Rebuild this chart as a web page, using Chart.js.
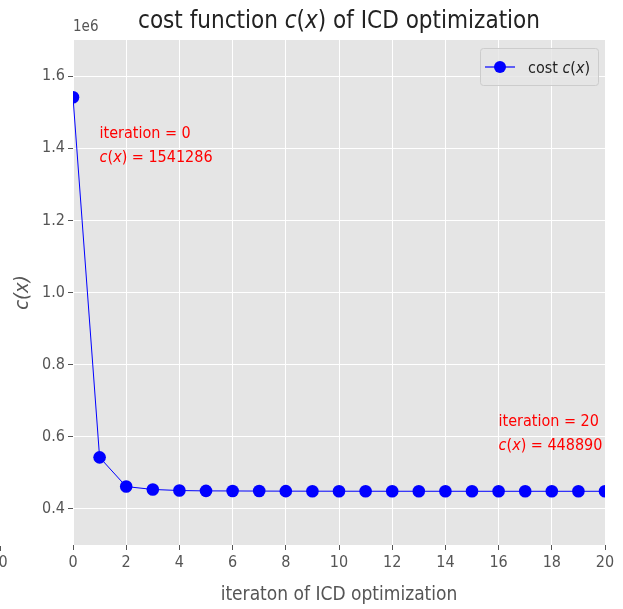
<!DOCTYPE html>
<html>
<head>
<meta charset="utf-8">
<script src="https://cdn.jsdelivr.net/npm/chart.js@4.4.0/dist/chart.umd.min.js"></script>
<style>
  html, body { margin: 0; padding: 0; background: #fff; }
  #wrap { width: 623px; height: 609px; }
</style>
</head>
<body>
<div id="wrap"><canvas id="costChart" width="623" height="609"></canvas></div>
<script>
// cost per ICD iteration
const iterations = [0, 1, 2, 3, 4, 5, 6, 7, 8, 9, 10, 11, 12, 13, 14, 15, 16, 17, 18, 19, 20];
const costValues = [1541286, 543000, 462000, 454000, 451000, 450000, 449800, 449500, 449300, 449200,
    449100, 449050, 449000, 448980, 448960, 448940, 448920, 448910, 448900, 448895, 448890];
const xTicks = [0, 2, 4, 6, 8, 10, 12, 14, 16, 18, 20];
const yTicks = [400000, 600000, 800000, 1000000, 1200000, 1400000, 1600000];

const FONT = "'DejaVu Sans Condensed', 'Liberation Sans Narrow', 'DejaVu Sans', sans-serif";
const GRAY = '#555555';

// text with italic parts, like matplotlib mathtext
function drawRich(ctx, parts, x, y, size, color, align) {
    let total = 0;
    parts.forEach(p => {
        ctx.font = (p[1] ? 'italic ' : '') + size + 'px ' + FONT;
        total += ctx.measureText(p[0]).width;
    });
    let cx = align === 'center' ? x - total / 2 : (align === 'right' ? x - total : x);
    ctx.fillStyle = color;
    ctx.textAlign = 'left';
    ctx.textBaseline = 'alphabetic';
    parts.forEach(p => {
        ctx.font = (p[1] ? 'italic ' : '') + size + 'px ' + FONT;
        ctx.fillText(p[0], cx, y);
        cx += ctx.measureText(p[0]).width;
    });
}

const extras = {
    id: 'extras',
    beforeDraw(chart) {
        const { ctx, chartArea: a } = chart;
        ctx.save();
        ctx.fillStyle = '#E5E5E5';
        ctx.fillRect(a.left, a.top, a.right - a.left, a.bottom - a.top);
        ctx.restore();
    },
    // markers are cut at the plot edges, like matplotlib
    beforeDatasetsDraw(chart) {
        const { ctx, chartArea: a } = chart;
        ctx.save();
        ctx.beginPath();
        ctx.rect(a.left, a.top, a.right - a.left, a.bottom - a.top);
        ctx.clip();
    },
    afterDatasetsDraw(chart) {
        chart.ctx.restore();
    },
    afterDraw(chart) {
        const { ctx, chartArea: a, scales } = chart;
        ctx.save();
        // title
        drawRich(ctx, [['cost function ', 0], ['c', 1], ['(', 0], ['x', 1], [') of ICD optimization', 0]],
            (a.left + a.right) / 2, 28, 24, '#222', 'center');
        // offset text
        ctx.font = '15px ' + FONT;
        ctx.fillStyle = GRAY;
        ctx.textAlign = 'left';
        ctx.fillText('1e6', a.left, 31);
        // stray tick at far left
        ctx.strokeStyle = GRAY;
        ctx.lineWidth = 1;
        ctx.beginPath();
        ctx.moveTo(0.5, a.bottom + 1);
        ctx.lineTo(0.5, a.bottom + 6);
        ctx.stroke();
        ctx.font = '16px ' + FONT;
        ctx.textAlign = 'center';
        ctx.textBaseline = 'top';
        ctx.fillText('0', 3, a.bottom + 10);

        // annotations
        const x0 = scales.x.getPixelForValue(1), y0 = scales.y.getPixelForValue(1360000);
        drawRich(ctx, [['iteration = 0', 0]], x0, y0 - 25, 16, '#ff0000', 'left');
        drawRich(ctx, [['c', 1], ['(', 0], ['x', 1], [') = 1541286', 0]], x0, y0 - 1, 16, '#ff0000', 'left');
        const x1 = scales.x.getPixelForValue(16), y1 = scales.y.getPixelForValue(560000);
        drawRich(ctx, [['iteration = 20', 0]], x1, y1 - 25, 16, '#ff0000', 'left');
        drawRich(ctx, [['c', 1], ['(', 0], ['x', 1], [') = 448890', 0]], x1, y1 - 1, 16, '#ff0000', 'left');

        // legend box
        const lx = a.right - 125, ly = a.top + 8, lw = 118, lh = 37;
        ctx.fillStyle = 'rgba(229,229,229,0.8)';
        ctx.strokeStyle = '#cccccc';
        ctx.beginPath();
        ctx.roundRect(lx + 0.5, ly + 0.5, lw, lh, 3);
        ctx.fill();
        ctx.stroke();
        ctx.strokeStyle = '#0000ff';
        ctx.lineWidth = 1.2;
        ctx.beginPath();
        ctx.moveTo(lx + 5, ly + 19);
        ctx.lineTo(lx + 35, ly + 19);
        ctx.stroke();
        ctx.fillStyle = '#0000ff';
        ctx.beginPath();
        ctx.arc(lx + 20, ly + 19, 6, 0, Math.PI * 2);
        ctx.fill();
        drawRich(ctx, [['cost ', 0], ['c', 1], ['(', 0], ['x', 1], [')', 0]], lx + 48, ly + 25, 16, '#222', 'left');
        ctx.restore();
    }
};

document.addEventListener("DOMContentLoaded", function () {
    const canvas = document.getElementById("costChart");
    const ctx = canvas.getContext("2d");

    new Chart(ctx, {
        type: 'line',
        data: {
            datasets: [{
                label: 'cost c(x)',
                data: iterations.map((it, i) => ({ x: it, y: costValues[i] })),
                borderColor: '#0000ff',
                backgroundColor: '#0000ff',
                borderWidth: 1,
                pointRadius: 6.3,
                pointBorderWidth: 0,
                pointHoverRadius: 6.3,
                tension: 0,
                clip: 0
            }]
        },
        options: {
            responsive: false,
            animation: false,
            events: [],
            layout: { padding: { top: 40, right: 18, left: 0, bottom: 0 } },
            plugins: {
                legend: { display: false },
                title: { display: false },
                tooltip: { enabled: false }
            },
            scales: {
                x: {
                    type: 'linear',
                    min: 0,
                    max: 20,
                    afterBuildTicks: s => { s.ticks = xTicks.map(v => ({ value: v })); },
                    afterFit: s => { s.height = 64; },
                    border: { display: false },
                    grid: { color: '#ffffff', lineWidth: 1, tickColor: GRAY, tickLength: 5, drawOnChartArea: true },
                    ticks: { color: GRAY, font: { family: FONT, size: 16 }, padding: 3, maxRotation: 0 },
                    title: {
                        display: true,
                        text: 'iteraton of ICD optimization',
                        color: GRAY,
                        font: { family: FONT, size: 19 },
                        padding: { top: 4, bottom: 3 }
                    }
                },
                y: {
                    min: 300000,
                    max: 1700000,
                    afterBuildTicks: s => { s.ticks = yTicks.map(v => ({ value: v })); },
                    afterFit: s => { s.width = 73; },
                    border: { display: false },
                    grid: { color: '#ffffff', lineWidth: 1, tickColor: GRAY, tickLength: 5 },
                    ticks: {
                        color: GRAY,
                        font: { family: FONT, size: 16 },
                        padding: 3,
                        callback: v => (v / 1e6).toFixed(1)
                    },
                    title: {
                        display: true,
                        text: 'c(x)',
                        color: GRAY,
                        font: { family: FONT, size: 20, style: 'italic' },
                        padding: { top: 11, bottom: 4 }
                    }
                }
            }
        },
        plugins: [extras]
    });
});
</script>
</body>
</html>
